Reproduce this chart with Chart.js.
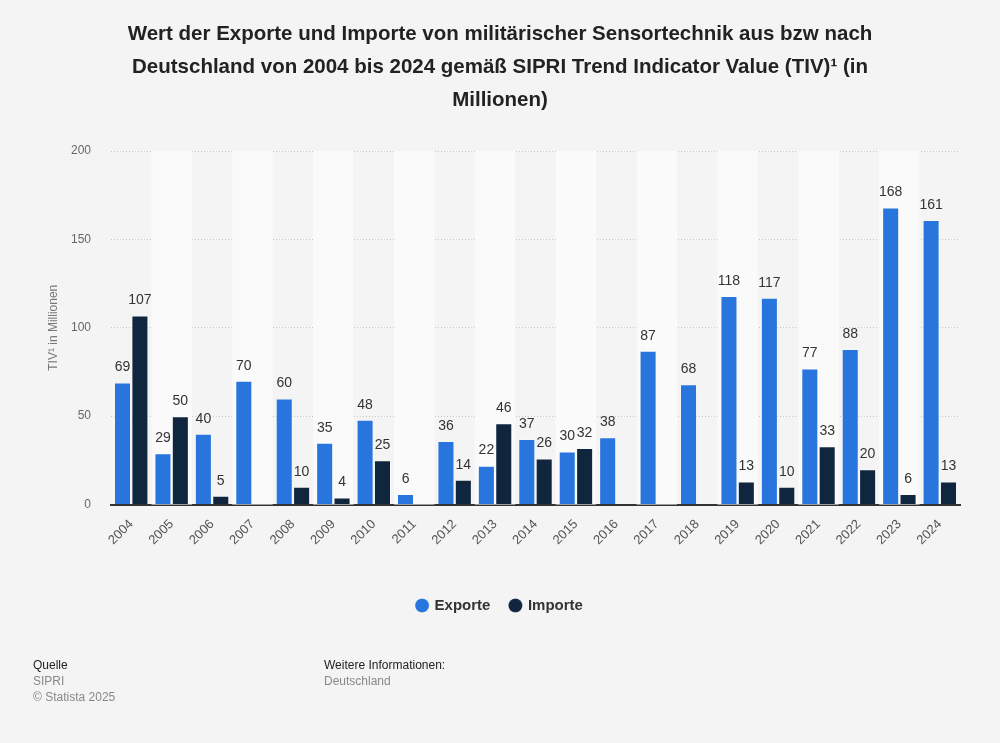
<!DOCTYPE html>
<html lang="de">
<head>
    <meta charset="UTF-8" />
    <title>Exporte und Importe militärischer Sensortechnik</title>
    <script src="https://cdn.jsdelivr.net/npm/chart.js"></script>
    <style>
        html, body {
            margin: 0;
            padding: 0;
            background: #f4f4f4;
            font-family: Arial, "Liberation Sans", sans-serif;
        }
        #wrap {
            position: relative;
            width: 1000px;
            height: 743px;
        }
        #chart {
            position: absolute;
            left: 0;
            top: 0;
        }
        .title {
            position: absolute;
            top: 16px;
            left: 100px;
            width: 800px;
            text-align: center;
            font-weight: bold;
            font-size: 20.5px;
            line-height: 33px;
            color: #222;
        }
        .foot {
            position: absolute;
            top: 657px;
            font-size: 12px;
            line-height: 16px;
            color: #888;
        }
        .foot b {
            font-weight: normal;
            color: #222;
        }
    </style>
</head>
<body>
<div id="wrap">
    <canvas id="chart" width="1000" height="743"></canvas>
    <div class="title">Wert der Exporte und Importe von militärischer Sensortechnik aus bzw nach Deutschland von 2004 bis 2024 gemäß SIPRI Trend Indicator Value (TIV)¹ (in Millionen)</div>
    <div class="foot" style="left:33px"><b>Quelle</b><br>SIPRI<br>© Statista 2025</div>
    <div class="foot" style="left:324px"><b>Weitere Informationen:</b><br>Deutschland</div>
</div>

<script>
    const years = ['2004', '2005', '2006', '2007', '2008', '2009', '2010', '2011', '2012', '2013', '2014',
        '2015', '2016', '2017', '2018', '2019', '2020', '2021', '2022', '2023', '2024'];
    const exporte = [69, 29, 40, 70, 60, 35, 48, 6, 36, 22, 37, 30, 38, 87, 68, 118, 117, 77, 88, 168, 161];
    const importe = [107, 50, 5, null, 10, 4, 25, null, 14, 46, 26, 32, null, null, null, 13, 10, 33, 20, 6, 13];
    const yTicks = [0, 50, 100, 150, 200];

    const fontFam = 'Arial, "Liberation Sans", sans-serif';

    // lighter stripes behind every second year
    const bands = {
        id: 'bands',
        beforeDatasetsDraw(chart) {
            const { ctx, chartArea, scales } = chart;
            const step = (chartArea.right - chartArea.left) / years.length;
            ctx.save();
            ctx.fillStyle = '#fafafa';
            years.forEach((y, i) => {
                if (i % 2 === 1) {
                    const cx = scales.x.getPixelForValue(i);
                    ctx.fillRect(cx - step / 2, chartArea.top, step, chartArea.bottom - chartArea.top);
                }
            });
            ctx.restore();
        }
    };

    // value labels above the bars
    const valueLabels = {
        id: 'valueLabels',
        afterDatasetsDraw(chart) {
            const { ctx } = chart;
            ctx.save();
            ctx.font = '14px ' + fontFam;
            ctx.fillStyle = '#333';
            ctx.textAlign = 'center';
            ctx.textBaseline = 'bottom';
            chart.data.datasets.forEach((ds, di) => {
                const meta = chart.getDatasetMeta(di);
                meta.data.forEach((bar, i) => {
                    const v = ds.data[i];
                    if (v === null || v === undefined) return;
                    ctx.fillText(String(v), bar.x, bar.y - 8);
                });
            });
            ctx.restore();
        }
    };

    new Chart(document.getElementById('chart'), {
        type: 'bar',
        data: {
            labels: years,
            datasets: [
                {
                    label: 'Exporte',
                    data: exporte,
                    backgroundColor: '#2876dd',
                    borderColor: 'rgba(255,255,255,0.25)',
                    borderWidth: 1
                },
                {
                    label: 'Importe',
                    data: importe,
                    backgroundColor: '#10253e',
                    borderColor: 'rgba(255,255,255,0.25)',
                    borderWidth: 1
                }
            ]
        },
        options: {
            responsive: false,
            animation: false,
            layout: {
                padding: { top: 151, left: 40, right: 40, bottom: 120 }
            },
            datasets: {
                bar: { categoryPercentage: 0.86, barPercentage: 0.98 }
            },
            scales: {
                x: {
                    afterFit(axis) {
                        // room between the year labels and the legend
                        axis.height += 26;
                    },
                    grid: { display: false },
                    border: { display: true, color: '#333', width: 2 },
                    ticks: {
                        color: '#555',
                        font: { size: 13, family: fontFam },
                        minRotation: 45,
                        maxRotation: 45,
                        padding: 4
                    }
                },
                y: {
                    min: 0,
                    max: 200,
                    afterBuildTicks(axis) {
                        axis.ticks = yTicks.map(v => ({ value: v }));
                    },
                    afterFit(axis) {
                        axis.width = 71;
                    },
                    grid: { color: '#c8c8c8', drawTicks: false },
                    border: { display: false, dash: [1, 2] },
                    ticks: {
                        color: '#666',
                        font: { size: 12, family: fontFam },
                        padding: 20
                    },
                    title: {
                        display: true,
                        text: 'TIV¹ in Millionen',
                        color: '#777',
                        font: { size: 12, family: fontFam },
                        padding: 6
                    }
                }
            },
            plugins: {
                legend: {
                    position: 'bottom',
                    labels: {
                        usePointStyle: true,
                        pointStyle: 'circle',
                        boxWidth: 10,
                        boxHeight: 10,
                        padding: 20,
                        color: '#333',
                        font: { size: 15, weight: 'bold', family: fontFam }
                    }
                },
                tooltip: { enabled: false }
            }
        },
        plugins: [bands, valueLabels]
    });
</script>
</body>
</html>
